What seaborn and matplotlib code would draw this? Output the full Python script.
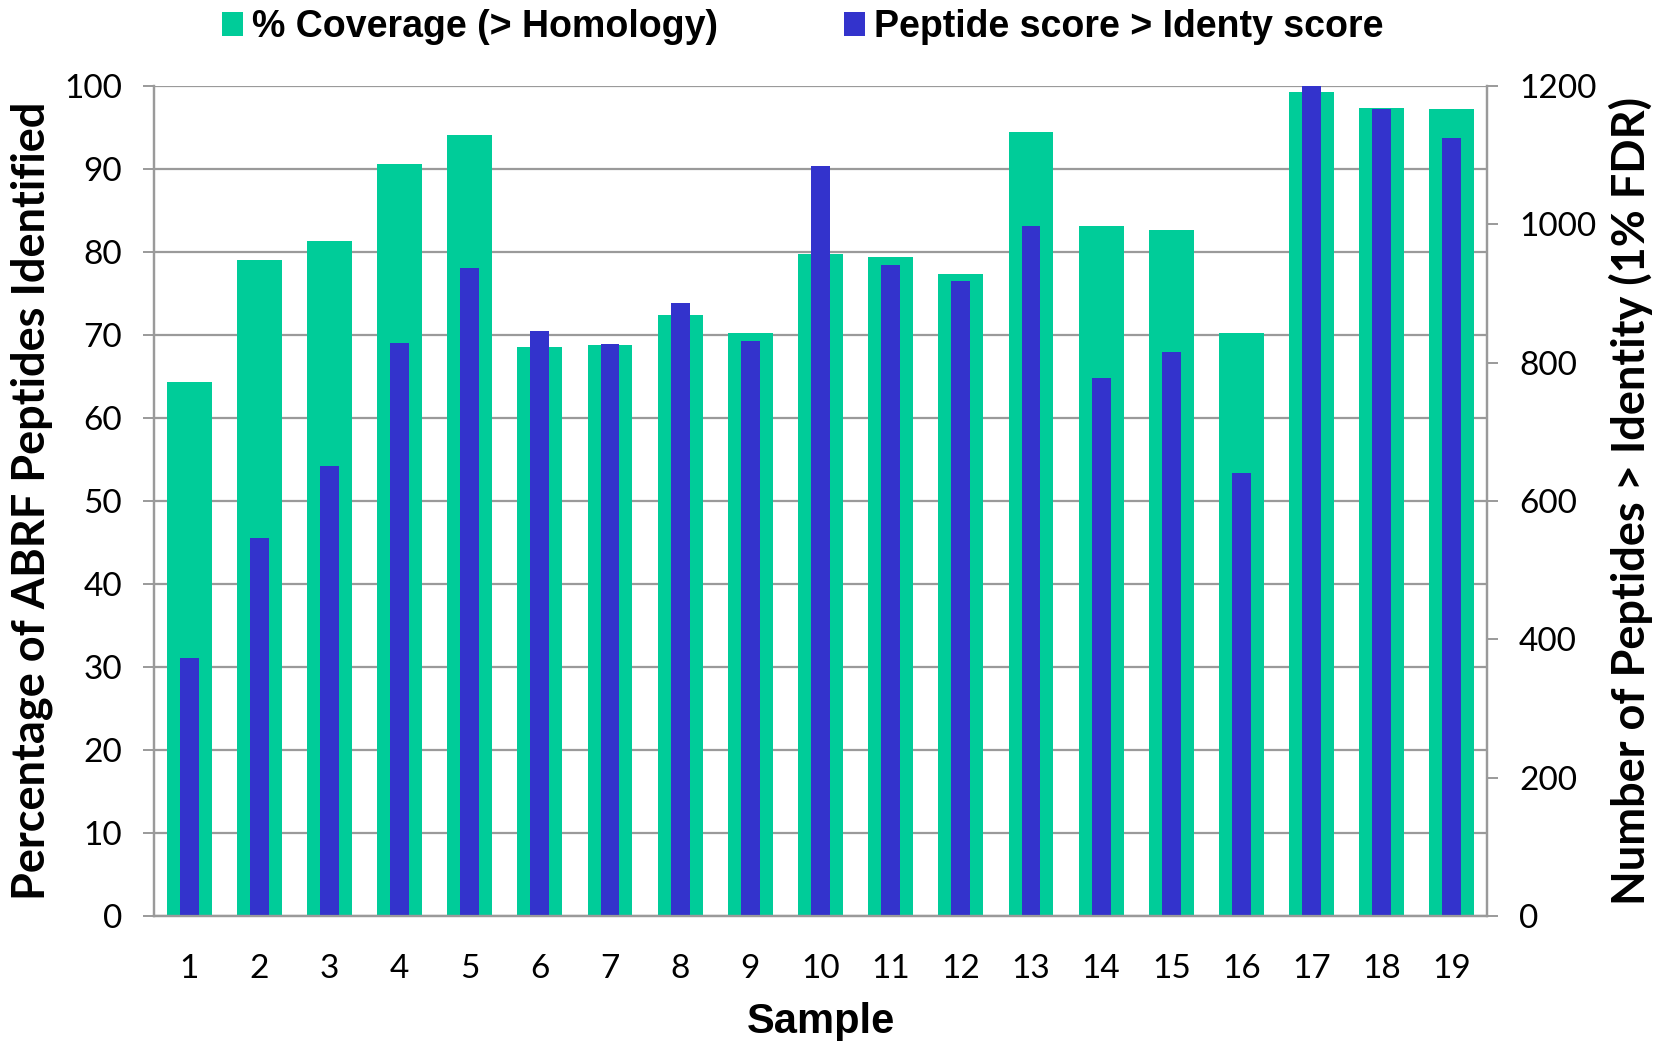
import numpy as np
import pandas as pd
import matplotlib
matplotlib.use("Agg")
import matplotlib.pyplot as plt
from matplotlib.patches import Patch
from matplotlib.font_manager import FontProperties
import seaborn as sns

samples = [str(i) for i in range(1, 20)]
coverage = [64.3, 79.0, 81.3, 90.6, 94.1, 68.6, 68.8, 72.4, 70.2, 79.8,
            79.4, 77.3, 94.4, 83.1, 82.7, 70.3, 99.3, 97.4, 97.2]
peptides = [373, 546, 651, 828, 937, 846, 827, 886, 831, 1084,
            941, 918, 997, 778, 816, 640, 1200, 1167, 1125]

left_ticks = list(range(0, 101, 10))
right_ticks = list(range(0, 1201, 200))

legend_labels = ["% Coverage (> Homology)", "Peptide score > Identy score"]
xlabel = "Sample"
ylabel_left = "Percentage of ABRF Peptides Identified"
ylabel_right = "Number of Peptides > Identity (1% FDR)"

GREEN = "#00CC99"
BLUE = "#3333CC"
GRID = "#9A9A9A"

sns.set_style("white")
plt.rcParams["font.family"] = ["Lato", "DejaVu Sans"]
plt.rcParams["text.color"] = "black"
plt.rcParams["axes.labelcolor"] = "black"
plt.rcParams["xtick.labelcolor"] = "black"
plt.rcParams["ytick.labelcolor"] = "black"

df = pd.DataFrame({"sample": samples, "coverage": coverage, "peptides": peptides})

fig = plt.figure(figsize=(16.72, 10.41), dpi=100)
ax = fig.add_axes([154 / 1672, 1 - 916 / 1041, (1487 - 154) / 1672, (916 - 86) / 1041])
ax2 = ax.twinx()

sns.barplot(data=df, x="sample", y="coverage", color=GREEN, saturation=1,
            width=0.64, ax=ax, edgecolor="none", linewidth=0)
sns.barplot(data=df, x="sample", y="peptides", color=BLUE, saturation=1,
            width=0.27, ax=ax2, edgecolor="none", linewidth=0)

ax.set_xlim(-0.5, len(samples) - 0.5)
ax.set_ylim(0, 100)
ax2.set_ylim(0, 1200)
ax.set_yticks(left_ticks)
ax2.set_yticks(right_ticks)

ax.set_axisbelow(True)
ax.yaxis.grid(True, color=GRID, linewidth=1.6)
ax.xaxis.grid(False)

tick_font = 24
ax.set_xticks(range(len(samples)))
ax.set_xticklabels(samples)
ax.set_xticks(np.arange(-0.5, len(samples), 1), minor=True)
ax.tick_params(axis="x", which="major", length=0, pad=27, labelsize=tick_font, labelcolor="black")
ax.tick_params(axis="x", which="minor", length=8, width=1.4, color=GRID, direction="out")
ax.tick_params(axis="y", which="major", length=8, width=1.4, color=GRID, direction="out",
               pad=15, labelsize=tick_font, left=True, labelcolor="black")
ax2.tick_params(axis="y", which="major", length=8, width=1.4, color=GRID, direction="out",
                pad=15, labelsize=tick_font, right=True, labelcolor="black")

for a in (ax, ax2):
    for s in ("left", "right", "bottom"):
        a.spines[s].set_visible(True)
        a.spines[s].set_color(GRID)
        a.spines[s].set_linewidth(1.6)
    a.spines["top"].set_visible(False)

ax.set_xlabel(xlabel, fontsize=30, fontweight="bold", family="Liberation Sans", labelpad=13,
              color="black")
ax.set_ylabel("")
ax2.set_ylabel("")
fig.text(32 / 1672, 1 - 501 / 1041, ylabel_left, rotation=90, ha="center", va="center",
         fontsize=32.5, fontweight="bold", color="black")
fig.text(1631 / 1672, 1 - 501 / 1041, ylabel_right, rotation=90, ha="center", va="center",
         fontsize=32.5, fontweight="bold", color="black")

handles = [Patch(facecolor=GREEN, edgecolor="none"), Patch(facecolor=BLUE, edgecolor="none")]
fig.legend(handles, legend_labels, ncol=2, loc="center", bbox_to_anchor=(803 / 1672, 1 - 27 / 1041),
           frameon=False, prop=FontProperties(family="Liberation Sans", weight="bold", size=27),
           handlelength=0.55, handleheight=0.6, handletextpad=0.25, columnspacing=3.35,
           borderaxespad=0, borderpad=0)

fig.savefig("out.png", dpi=100)
